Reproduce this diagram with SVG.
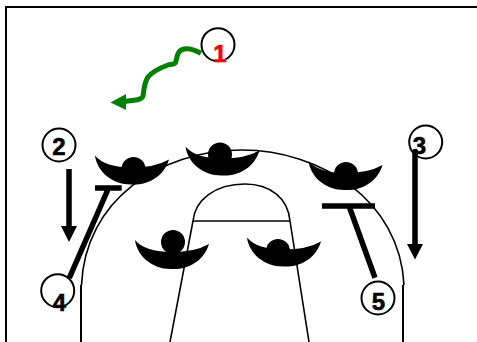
<svg xmlns="http://www.w3.org/2000/svg" width="477" height="342" viewBox="0 0 477 342">
<style>
.court{fill:none;stroke:#000;stroke-width:1.6}
.move{fill:none;stroke:#000;stroke-width:5.5}
.ring{fill:none;stroke:#000;stroke-width:2}
.num{font-family:"Liberation Sans",Arial,sans-serif;font-weight:bold;font-size:24px;text-anchor:middle;fill:#000;stroke:#000;stroke-width:.6}
</style>
<defs>
<g id="dancer-body"><path d="M0,0 Q10,12 37,12 Q60,12 74,4 C69,21 53,30 36,29 C17,29 2,16 0,0Z" fill="#000"/></g>
</defs>
<rect width="477" height="342" fill="#fff"/>
<g id="court">
<path class="court" style="stroke-width:2" d="M477,7H6V342"/>
<path class="court" d="M81.5,285C85,200 160,150 242,150C320,150 400,200 404,285"/>
<path class="court" style="stroke-width:2" d="M81,285V342M403,285V342"/>
<path class="court" d="M193,221C195,200 215,184 245,184C270,184 288,198 290,221"/>
<path class="court" d="M193,221H290M193,221L170,342M290,221L309,342"/>
</g>
<g id="player-a"><use href="#dancer-body" x="95" y="155.5"/><circle cx="133.5" cy="169" r="12"/></g>
<g id="player-b"><use href="#dancer-body" x="185.5" y="146.5"/><circle cx="220" cy="154.5" r="12"/></g>
<g id="player-c"><use href="#dancer-body" x="308.5" y="161"/><circle cx="346" cy="174" r="12"/></g>
<g id="player-d"><use href="#dancer-body" x="135" y="240"/><circle cx="173" cy="242" r="12"/></g>
<g id="player-e"><use href="#dancer-body" x="247" y="237.5"/><circle cx="278" cy="251" r="12"/></g>
<g id="connectors">
<path d="M201,53.3C195,50 188,48 184,49C178,50 177,56 176,61C175,66 172,63 168,65C160,68 152,72 148,77C144,83 144,90 143,96C142,100 135,100 124,101.5" fill="none" stroke="#008000" stroke-width="5"/>
<path d="M110.5,102.5L126,94V110Z" fill="#008000"/>
<path class="move" d="M69,169V228"/><path d="M61,226H77L69,242Z"/>
<path class="move" d="M415,150V246"/><path d="M407,244H423L415,259.500Z"/>
<path class="move" d="M69.300,278L107.700,190M95,188H121.700"/>
<path class="move" d="M322,206H375M349.300,206.700L375,277.700"/>
</g>
<g id="n1"><circle class="ring" cx="218" cy="44.700" r="16.500"/><text class="num" x="220" y="61.500" style="fill:#f00;stroke:#f00">1</text></g>
<g id="n2"><circle class="ring" cx="59" cy="145" r="16.500"/><text class="num" x="59" y="154.500">2</text></g>
<g id="n3"><circle class="ring" cx="425.700" cy="142" r="16.500"/><text class="num" x="419.500" y="154">3</text></g>
<g id="n4"><circle class="ring" cx="57.700" cy="290.700" r="16.500"/><text class="num" x="59.500" y="311">4</text></g>
<g id="n5"><circle class="ring" cx="378" cy="298" r="16.500"/><text class="num" x="378.500" y="310">5</text></g>
</svg>
